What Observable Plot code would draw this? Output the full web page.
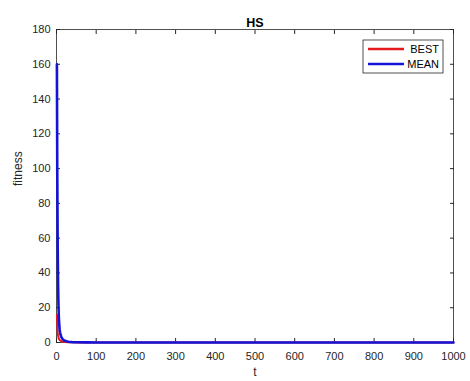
<!DOCTYPE html>
<html>
<head>
<meta charset="utf-8">
<script src="https://cdn.jsdelivr.net/npm/d3@7"></script>
<script src="https://cdn.jsdelivr.net/npm/@observablehq/plot@0.6"></script>
<style>
  html, body { margin: 0; padding: 0; background: #fff; }
  #chart { position: relative; width: 470px; height: 381px; }
  svg { font-family: "Liberation Sans", Arial, sans-serif; }
</style>
</head>
<body>
<div id="chart"></div>
<script>
// Data
const meanT = [1, 2, 3, 4, 5, 6, 7, 8, 9, 10, 12, 14, 16, 18, 20, 25, 30, 35, 40, 50, 75, 100, 200, 500, 1000];
const meanV = [160, 95, 55, 33, 21, 14, 10, 7.5, 5.8, 4.6, 3.2, 2.4, 1.8, 1.4, 1.1, 0.7, 0.45, 0.3, 0.2, 0.12, 0.05, 0.03, 0.01, 0.005, 0.003];
const bestT = [1, 2, 3, 4, 5, 6, 8, 10, 15, 20, 30, 40, 50, 100, 200, 1000];
const bestV = [16, 9, 5.5, 3.8, 2.8, 2.1, 1.4, 1.0, 0.5, 0.3, 0.15, 0.08, 0.05, 0.02, 0.005, 0.001];
const xTicks = [0, 100, 200, 300, 400, 500, 600, 700, 800, 900, 1000];
const yTicks = [0, 20, 40, 60, 80, 100, 120, 140, 160, 180];
const seriesNames = ["BEST", "MEAN"];
const seriesColors = ["#e3191c", "#1414d8"];
const titleText = "HS";
const xLabel = "t";
const yLabel = "fitness";

const mean = meanT.map((t, i) => ({t, v: meanV[i]}));
const best = bestT.map((t, i) => ({t, v: bestV[i]}));

const axisColor = "#262626";
const fmt = d => String(d);
const plot = Plot.plot({
  width: 470,
  height: 381,
  marginLeft: 56,
  marginRight: 17,
  marginTop: 29,
  marginBottom: 39,
  style: {fontFamily: "Liberation Sans, Arial, sans-serif", fontSize: "11px", color: axisColor, background: "#fff"},
  x: {domain: [0, 1000]},
  y: {domain: [0, 180]},
  marks: [
    Plot.frame({stroke: axisColor, strokeWidth: 0.8}),
    Plot.axisX({ticks: xTicks, tickSize: -4, tickPadding: 14, tickFormat: fmt, label: null, fontSize: 11, stroke: axisColor}),
    Plot.axisX({anchor: "top", ticks: xTicks, tickSize: -4, tickFormat: () => "", label: null, stroke: axisColor}),
    Plot.axisY({ticks: yTicks, tickSize: -4, tickPadding: 10, tickFormat: fmt, label: null, fontSize: 11, stroke: axisColor}),
    Plot.axisY({anchor: "right", ticks: yTicks, tickSize: -4, tickFormat: () => "", label: null, stroke: axisColor}),
    Plot.line(best, {x: "t", y: "v", stroke: seriesColors[0], strokeWidth: 2}),
    Plot.line(mean, {x: "t", y: "v", stroke: seriesColors[1], strokeWidth: 2.6}),
    Plot.text([titleText], {frameAnchor: "top", dy: -11.5, fontWeight: "bold", fontSize: 12.5, fill: "#000"}),
    Plot.text([xLabel], {frameAnchor: "bottom", dy: 33, fontSize: 12, fill: axisColor}),
    Plot.text([yLabel], {frameAnchor: "left", dx: -38, rotate: -90, fontSize: 12, fill: axisColor})
  ]
});
document.getElementById("chart").appendChild(plot);

// Legend (inside the axes, top-right like the reference)
const svg = d3.select(plot);
const lg = svg.append("g").attr("transform", "translate(363,40)");
lg.append("rect").attr("width", 80).attr("height", 33).attr("fill", "#fff").attr("stroke", axisColor).attr("stroke-width", 0.8);
seriesNames.forEach((name, i) => {
  const y = 9 + i * 15;
  lg.append("line").attr("x1", 5).attr("x2", 41).attr("y1", y).attr("y2", y)
    .attr("stroke", seriesColors[i]).attr("stroke-width", 2.6);
  lg.append("text").attr("x", 76).attr("y", y).attr("dy", "0.35em").attr("text-anchor", "end")
    .attr("font-size", 11).attr("fill", "#000").text(name);
});
</script>
</body>
</html>
